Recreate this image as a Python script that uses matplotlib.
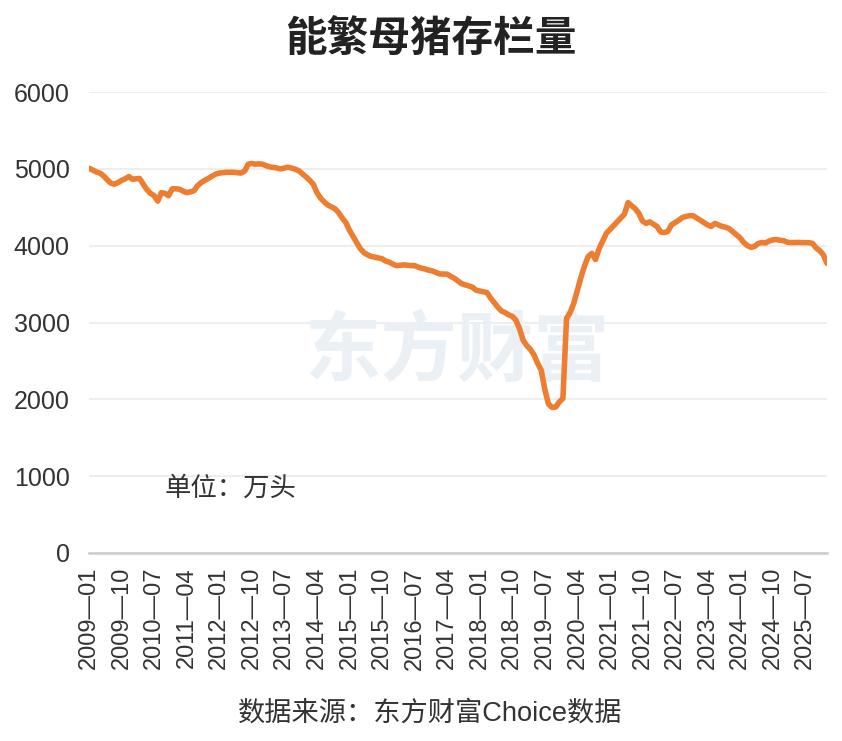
import matplotlib
matplotlib.use("Agg")
import matplotlib.pyplot as plt
import pandas as pd

# ---- data ----
start_month = "2009-01"
values = [
    5007, 4985, 4960, 4945, 4910, 4860, 4815, 4800, 4820, 4850,
    4870, 4900, 4865, 4870, 4875, 4800, 4730, 4680, 4650, 4580,
    4690, 4680, 4650, 4740, 4740, 4735, 4710, 4690, 4700, 4715,
    4780, 4820, 4850, 4875, 4905, 4930, 4945, 4950, 4955, 4955,
    4955, 4950, 4945, 4970, 5060, 5070, 5060, 5065, 5060, 5040,
    5025, 5018, 5010, 5000, 5010, 5020, 5010, 4995, 4975, 4935,
    4895, 4850, 4800, 4690, 4620, 4570, 4530, 4505, 4480, 4430,
    4360, 4300, 4200, 4120, 4040, 3960, 3910, 3880, 3860, 3850,
    3840, 3830, 3800, 3785, 3760, 3740, 3745, 3750, 3745, 3740,
    3740, 3720, 3705, 3695, 3680, 3670, 3650, 3632, 3630, 3630,
    3600, 3575, 3540, 3505, 3490, 3475, 3460, 3420, 3410, 3400,
    3390, 3320, 3260, 3200, 3150, 3130, 3100, 3080, 3030, 2920,
    2770, 2700, 2650, 2580, 2470, 2380, 2130, 1940, 1895, 1900,
    1965, 2013, 3050, 3130, 3250, 3420, 3590, 3740, 3860, 3900,
    3820, 3960, 4060, 4160, 4210, 4260, 4310, 4360, 4410, 4560,
    4520, 4480, 4420, 4320, 4290, 4310, 4280, 4250, 4180, 4170,
    4185, 4270, 4300, 4330, 4365, 4380, 4390, 4390, 4360, 4330,
    4300, 4270, 4250, 4290, 4270, 4250, 4240, 4220, 4180, 4140,
    4100, 4040, 4000, 3978, 3990, 4030, 4040, 4035, 4060, 4075,
    4080, 4070, 4065, 4045, 4040, 4040, 4042, 4040, 4040, 4038,
    4030, 3970, 3935, 3880, 3770,
]
months = pd.period_range(start_month, periods=len(values), freq="M")
labels = [f"{p.year}—{p.month:02d}" for p in months]
y_ticks = [0, 1000, 2000, 3000, 4000, 5000, 6000]
title = "能繁母猪存栏量"
unit_text = "单位：万头"
source_text = "数据来源：东方财富Choice数据"
watermark = "东方财富"

LAT = ["Liberation Sans", "Noto Sans CJK SC", "DejaVu Sans"]
CJK = ["Noto Sans CJK SC", "DejaVu Sans"]
plt.rcParams["font.family"] = LAT

fig = plt.figure(figsize=(8.42, 7.41), dpi=100)
ax = fig.add_axes([89/842, 1-553/741, (827-89)/842, (553-92)/741])

x = list(range(len(values)))
ax.plot(x, values, color="#ED7D31", lw=4.0, solid_joinstyle="round",
        solid_capstyle="round", zorder=3)

ax.set_xlim(0, len(values) - 1)
ax.set_ylim(0, 6000)
ax.set_yticks(y_ticks)
ax.set_yticklabels([str(v) for v in y_ticks])
ax.yaxis.grid(True, color="#eeeeee", lw=1.5)
ax.set_axisbelow(True)
for s in ["top", "right", "left"]:
    ax.spines[s].set_visible(False)
ax.spines["bottom"].set_color("#cccccc")
ax.spines["bottom"].set_linewidth(1.8)

tick_idx = list(range(0, len(values), 9))
ax.set_xticks(tick_idx)
ax.set_xticklabels([labels[i] for i in tick_idx], rotation=90,
                   fontsize=17, color="#333333")
ax.tick_params(axis="x", length=0, pad=10)
ax.tick_params(axis="y", length=0, pad=14, labelsize=18, labelcolor="#333333")

ax.text(457/842, 1-352/741, watermark, transform=fig.transFigure, family=CJK,
        fontsize=55, fontweight="bold", color="#ebf0f5", ha="center",
        va="center", zorder=1)

fig.text(431/842, 1-40/741, title, family=CJK, fontsize=30,
         fontweight="heavy", color="#222222", ha="center", va="center")
fig.text(165/842, 1-488/741, unit_text, family=CJK, fontsize=19,
         color="#333333", ha="left", va="center")
fig.text(430/842, 1-714/741, source_text, family=LAT, fontsize=19.6,
         color="#333333", ha="center", va="center")

fig.savefig("out.png", dpi=100)
